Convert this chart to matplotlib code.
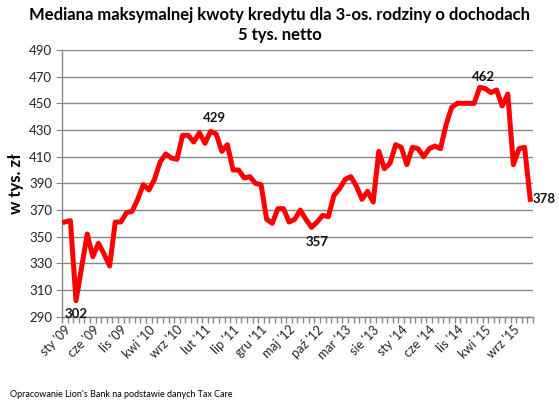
import matplotlib
matplotlib.use("Agg")
import matplotlib.pyplot as plt
import numpy as np

plt.rcParams['font.family'] = ['Lato', 'DejaVu Sans']

months = ['sty', 'lut', 'mar', 'kwi', 'maj', 'cze', 'lip', 'sie', 'wrz', 'paź', 'lis', 'gru']
years = ["09", "10", "11", "12", "13", "14", "15"]
categories = [f"{m} '{y}" for y in years for m in months]

values = [361, 362, 302, 327, 352, 335, 345, 337, 328, 361, 361, 368,
          369, 378, 389, 385, 393, 406, 412, 409, 408, 426, 426, 421,
          428, 420, 429, 427, 414, 419, 400, 400, 394, 395, 390, 389,
          363, 360, 371, 371, 361, 363, 370, 363, 357, 361, 366, 365,
          381, 386, 393, 395, 388, 378, 384, 376, 414, 401, 405, 419,
          417, 404, 417, 416, 410, 416, 418, 416, 434, 447, 450, 450,
          450, 450, 462, 461, 458, 460, 448, 457, 404, 416, 417, 378]

label_step = 5
y_ticks = list(range(290, 491, 20))

fig = plt.figure(figsize=(5.59, 4.09), dpi=100)
ax = fig.add_axes([0.1109, 0.2257, 0.8426, 0.6521])

x = np.arange(len(values))
ax.plot(x, values, color='#FF0000', linewidth=3.6, solid_joinstyle='round', zorder=3)

ax.set_xlim(-0.5, len(values) - 0.5)
ax.set_ylim(290, 490)
ax.set_yticks(y_ticks)
ax.tick_params(axis='y', length=4, color='#868686', labelsize=9.5, labelcolor='#222222', pad=3)
ax.grid(axis='y', color='#868686', linewidth=1.0, zorder=0)

ax.set_xticks(x[::label_step])
ax.set_xticklabels(categories[::label_step], rotation=45, ha='right',
                   rotation_mode='anchor', fontsize=9, color='#222222')
ax.tick_params(axis='x', which='major', length=0, pad=5)
ax.set_xticks(np.arange(-0.5, len(values), 1.0), minor=True)
ax.tick_params(axis='x', which='minor', length=4, color='#868686', width=1.0)

for s in ['top', 'right']:
    ax.spines[s].set_visible(False)
for s in ['left', 'bottom']:
    ax.spines[s].set_color('#868686')
    ax.spines[s].set_linewidth(1.0)

ax.set_ylabel('w tys. zł', fontsize=12, fontweight='bold', labelpad=4)

def annotate(i, dx, dy, ha, va):
    ax.annotate(str(values[i]), (x[i], values[i]), xytext=(dx, dy), textcoords='offset points',
                ha=ha, va=va, fontsize=9.5, fontweight='bold', color='#111111')

annotate(2, 0, -5, 'center', 'top')
annotate(26, 3, 5, 'center', 'bottom')
annotate(44, 4, -6, 'center', 'top')
annotate(74, 3, 3, 'center', 'bottom')
annotate(83, 2, 0, 'left', 'center')

fig.text(0.5, 0.982, 'Mediana maksymalnej kwoty kredytu dla 3-os. rodziny o dochodach\n5 tys. netto',
         ha='center', va='top', fontsize=12, fontweight='bold', linespacing=1.3)
fig.text(0.018, 0.025, "Opracowanie Lion's Bank na podstawie danych Tax Care", fontsize=6.5,
         ha='left', va='bottom')

fig.savefig('out.png', dpi=100)
